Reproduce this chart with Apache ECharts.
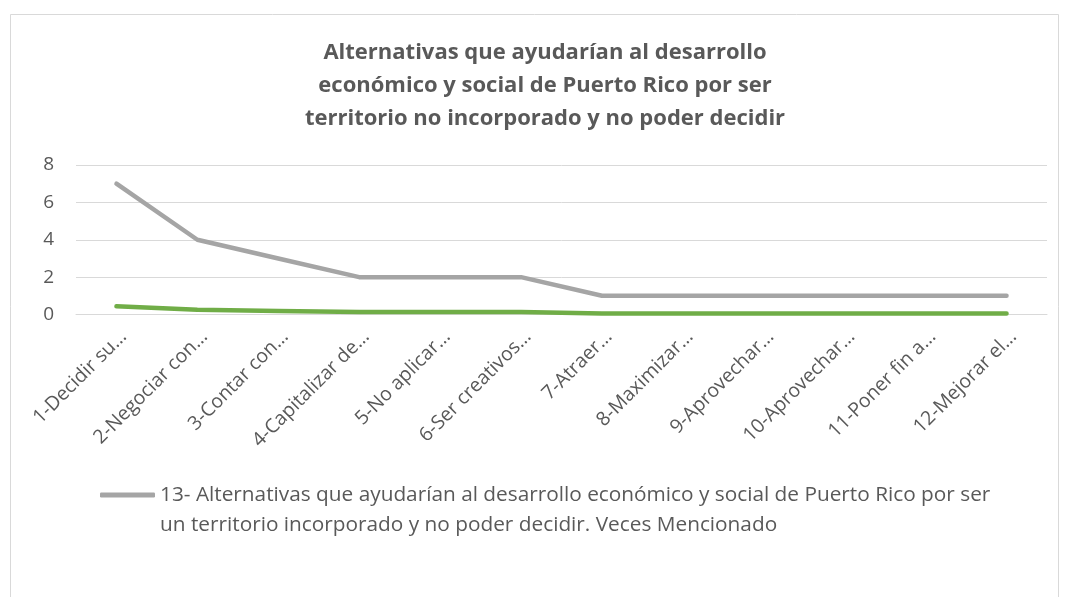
<!DOCTYPE html>
<html>
<head>
<meta charset="utf-8">
<script src="https://cdn.jsdelivr.net/npm/echarts@6/dist/echarts.min.js"></script>
<style>
html,body{margin:0;padding:0;background:#fff;}
#chart{width:1065px;height:597px;}
</style>
</head>
<body>
<div id="chart"></div>
<script>
const categories = ["1-Decidir su…", "2-Negociar con…", "3-Contar con…", "4-Capitalizar de…", "5-No aplicar…", "6-Ser creativos…", "7-Atraer…", "8-Maximizar…", "9-Aprovechar…", "10-Aprovechar…", "11-Poner fin a…", "12-Mejorar el…"];
const vecesMencionado = [7, 4, 3, 2, 2, 2, 1, 1, 1, 1, 1, 1];
const porcentaje = [0.44, 0.25, 0.19, 0.13, 0.13, 0.13, 0.06, 0.06, 0.06, 0.06, 0.06, 0.06];
const yTicks = [0, 2, 4, 6, 8];
const titleText = "Alternativas que ayudarían al desarrollo\neconómico y social de Puerto Rico por ser\nterritorio no incorporado y no poder decidir";
const seriesName1 = "13- Alternativas que ayudarían al desarrollo económico y social de Puerto Rico por ser un territorio incorporado y no poder decidir. Veces Mencionado";
const legendLine1 = "13- Alternativas que ayudarían al desarrollo económico y social de Puerto Rico por ser";
const legendLine2 = "un territorio incorporado y no poder decidir. Veces Mencionado";
const seriesName2 = "Porcentaje";

const FONT = "Open Sans";
const chart = echarts.init(document.getElementById('chart'));
chart.setOption({
  backgroundColor: '#fff',
  animation: false,
  graphic: [{
    type: 'rect', left: 8, top: 12, shape: {width: 1048, height: 600},
    style: {fill: 'none', stroke: '#d9d9d9', lineWidth: 1}
  }],
  title: {
    text: titleText,
    left: 540, top: 31, textAlign: 'center',
    textStyle: {fontFamily: FONT, fontSize: 22, fontWeight: 'bold', color: '#595959', lineHeight: 33}
  },
  grid: {left: 76, right: 18, top: 165, bottom: 282.5, containLabel: false},
  legend: {
    data: [seriesName1],
    left: 95, top: 445,
    icon: 'roundRect',
    itemWidth: 55, itemHeight: 5, itemGap: 4,
    formatter: function(){ return '\n' + legendLine1 + '\n' + legendLine2; },
    textStyle: {fontFamily: FONT, fontSize: 20.8, color: '#595959', lineHeight: 30}
  },
  xAxis: {
    type: 'category', data: categories, boundaryGap: true,
    axisLine: {lineStyle: {color: '#d9d9d9', width: 1}},
    axisTick: {show: false},
    axisLabel: {
      rotate: 45, interval: 0, margin: 12,
      formatter: function(v){ return '{a|' + v + '}'; },
      rich: {a: {fontFamily: FONT, fontSize: 19.5, color: '#595959', padding: [20, 0, 0, 0]}},
      fontFamily: FONT, fontSize: 19.5, color: '#595959'
    }
  },
  yAxis: {
    type: 'value', min: yTicks[0], max: yTicks[yTicks.length-1], interval: 2,
    axisLine: {show: false}, axisTick: {show: false},
    axisLabel: {fontFamily: FONT, fontSize: 19, color: '#595959', margin: 22},
    splitLine: {lineStyle: {color: '#d9d9d9', width: 1}}
  },
  series: [{
    name: seriesName1, type: 'line', data: vecesMencionado, symbol: 'none',
    lineStyle: {color: '#a5a5a5', width: 4.5, cap: 'round', join: 'round'},
    itemStyle: {color: '#a5a5a5'}
  }, {
    name: seriesName2, type: 'line', data: porcentaje, symbol: 'none',
    lineStyle: {color: '#70ad47', width: 4.5, cap: 'round', join: 'round'},
    itemStyle: {color: '#70ad47'}
  }]
});
</script>
</body>
</html>
